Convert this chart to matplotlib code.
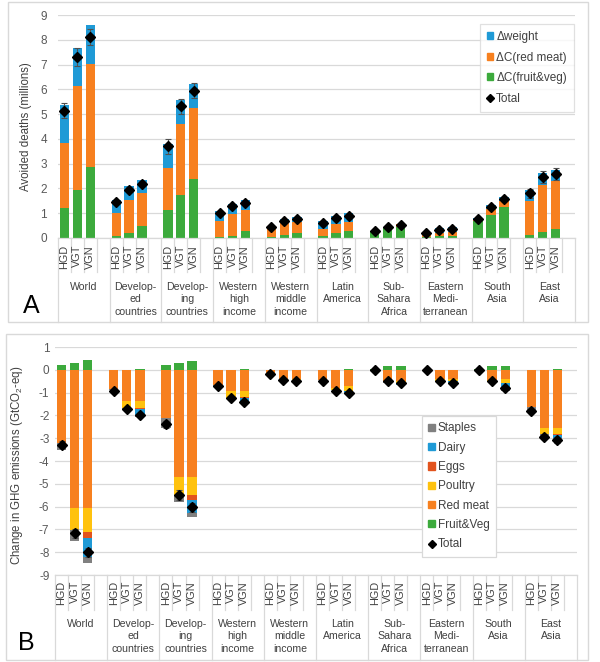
import numpy as np
import matplotlib
matplotlib.use("Agg")
import matplotlib.pyplot as plt
import matplotlib.transforms as mtransforms
from matplotlib.patches import Patch, Rectangle
from matplotlib.lines import Line2D

plt.rcParams['font.family'] = ['Liberation Sans', 'DejaVu Sans']
plt.rcParams['mathtext.fontset'] = 'custom'
plt.rcParams['mathtext.rm'] = 'Liberation Sans'
plt.rcParams['mathtext.it'] = 'Liberation Sans:italic'
plt.rcParams['axes.unicode_minus'] = False

regions = ["World", "Develop-\ned\ncountries", "Develop-\ning\ncountries",
           "Western\nhigh\nincome", "Western\nmiddle\nincome", "Latin\nAmerica",
           "Sub-\nSahara\nAfrica", "Eastern\nMedi-\nterranean", "South\nAsia", "East\nAsia"]
scenarios = ["HGD", "VGT", "VGN"]

# ---- panel A: avoided deaths (millions), one row per region, HGD/VGT/VGN
a_fruitveg = [[1.21, 1.95, 2.85], [0.08, 0.20, 0.47], [1.14, 1.75, 2.39],
              [0.04, 0.10, 0.27], [0.03, 0.12, 0.22], [0.08, 0.19, 0.28],
              [0.26, 0.39, 0.46], [0.03, 0.07, 0.10], [0.70, 0.94, 1.25],
              [0.13, 0.24, 0.36]]
a_redmeat = [[2.62, 4.19, 4.17], [0.92, 1.35, 1.34], [1.68, 2.85, 2.84],
             [0.63, 0.88, 0.87], [0.33, 0.50, 0.44], [0.27, 0.36, 0.38],
             [0.02, 0.07, 0.09], [0.10, 0.13, 0.13], [0.04, 0.23, 0.23],
             [1.37, 1.91, 1.95]]
a_weight = [[1.55, 1.52, 1.56], [0.55, 0.56, 0.54], [0.98, 0.98, 0.98],
            [0.40, 0.40, 0.41], [0.14, 0.15, 0.20], [0.34, 0.34, 0.33],
            [0.00, 0.00, 0.00], [0.11, 0.20, 0.20], [0.06, 0.17, 0.17],
            [0.45, 0.47, 0.45]]
a_total = [[5.13, 7.30, 8.10], [1.45, 1.95, 2.19], [3.70, 5.31, 5.95],
           [1.00, 1.28, 1.41], [0.46, 0.69, 0.77], [0.60, 0.79, 0.90],
           [0.28, 0.44, 0.52], [0.20, 0.34, 0.36], [0.78, 1.25, 1.57],
           [1.81, 2.46, 2.58]]
a_err = [[0.30, 0.35, 0.33], [0.08, 0.10, 0.10], [0.30, 0.30, 0.30],
         [0.06, 0.08, 0.08], [0.04, 0.05, 0.05], [0.04, 0.05, 0.05],
         [0.03, 0.03, 0.03], [0.03, 0.04, 0.04], [0.04, 0.06, 0.07],
         [0.18, 0.25, 0.25]]

# ---- panel B: change in GHG emissions (GtCO2-eq)
b_fruitveg = [[0.19, 0.32, 0.44], [0.00, 0.00, 0.03], [0.19, 0.30, 0.40],
              [0.00, 0.00, 0.03], [0.00, 0.00, 0.00], [0.00, 0.00, 0.02],
              [0.03, 0.15, 0.15], [0.00, 0.00, 0.00], [0.03, 0.15, 0.18],
              [0.00, 0.00, 0.02]]
b_redmeat = [[-3.22, -6.08, -6.08], [-0.85, -1.36, -1.36], [-2.12, -4.69, -4.69],
             [-0.66, -0.95, -0.95], [-0.22, -0.41, -0.41], [-0.44, -0.78, -0.73],
             [-0.03, -0.48, -0.51], [0.00, -0.41, -0.41], [-0.03, -0.44, -0.41],
             [-1.65, -2.56, -2.56]]
b_poultry = [[0.00, -0.95, -1.05], [0.00, -0.32, -0.32], [0.00, -0.80, -0.80],
             [0.00, -0.29, -0.25], [0.00, -0.03, -0.07], [0.00, -0.10, -0.19],
             [0.00, -0.06, -0.05], [0.00, -0.07, -0.07], [0.00, -0.07, -0.15],
             [0.00, -0.27, -0.27]]
b_eggs = [[0.00, 0.00, -0.26], [0.00, 0.00, -0.05], [0.00, 0.00, -0.22],
          [0.00, 0.00, -0.04], [0.00, 0.00, -0.01], [0.00, 0.00, -0.02],
          [0.00, 0.00, -0.02], [0.00, 0.00, -0.02], [0.00, 0.00, -0.03],
          [0.00, 0.00, -0.02]]
b_dairy = [[0.00, 0.00, -0.84], [0.00, 0.00, -0.25], [0.00, 0.00, -0.56],
           [0.00, 0.00, -0.22], [0.00, 0.00, -0.04], [0.00, 0.00, -0.06],
           [0.00, 0.00, -0.08], [0.00, 0.00, -0.08], [0.00, 0.00, -0.29],
           [0.00, 0.00, -0.12]]
b_staples = [[-0.29, -0.47, -0.23], [-0.05, -0.05, -0.07], [-0.44, -0.29, -0.17],
             [-0.03, -0.03, -0.03], [0.00, 0.00, 0.00], [-0.02, -0.02, -0.02],
             [0.00, -0.02, -0.02], [0.00, 0.00, 0.00], [0.00, -0.02, -0.07],
             [-0.11, -0.17, -0.08]]
b_total = [[-3.29, -7.17, -8.01], [-0.92, -1.71, -1.98], [-2.39, -5.49, -6.03],
           [-0.70, -1.24, -1.43], [-0.19, -0.44, -0.51], [-0.48, -0.92, -1.00],
           [0.00, -0.51, -0.59], [0.00, -0.48, -0.56], [0.00, -0.51, -0.78],
           [-1.80, -2.93, -3.07]]
b_err = [[0.15, 0.20, 0.20], [0.04, 0.05, 0.05], [0.15, 0.20, 0.20],
         [0.03, 0.05, 0.05], [0.02, 0.03, 0.03], [0.03, 0.04, 0.04],
         [0.02, 0.03, 0.03], [0.02, 0.03, 0.03], [0.02, 0.03, 0.05],
         [0.08, 0.12, 0.12]]

BLUE = "#1f9ad6"
ORANGE = "#f7801f"
GREEN = "#3caa3c"
YELLOW = "#ffc20e"
EGGS = "#e2531d"
GREY = "#808080"
GRID = "#d9d9d9"
TXT = "#404040"

flat = lambda v: np.array(v, dtype=float).ravel()
xpos = np.array([g * 4 + s for g in range(len(regions)) for s in range(len(scenarios))])
W = 0.72

fig = plt.figure(figsize=(6.0, 6.62), dpi=100)

# panel frames
fig.patches.append(Rectangle((8 / 600, 1 - 322 / 662), 580 / 600, 320 / 662,
                             transform=fig.transFigure, fill=False, ec=GRID, lw=1))
fig.patches.append(Rectangle((6 / 600, 1 - 660 / 662), 582 / 600, 326 / 662,
                             transform=fig.transFigure, fill=False, ec=GRID, lw=1))

axA = fig.add_axes([58 / 600, 1 - 238 / 662, 517 / 600, 223 / 662])
axB = fig.add_axes([55 / 600, 1 - 575 / 662, 522 / 600, 228 / 662])


def style(ax, lo, hi, pad):
    ax.set_xlim(-0.5, 4 * len(regions) - 0.5)
    ax.set_ylim(lo, hi)
    ax.set_yticks(range(lo, hi + 1))
    ax.set_xticks([])
    for s in ax.spines.values():
        s.set_visible(False)
    ax.tick_params(axis='y', length=0, pad=pad, labelsize=8.5, labelcolor="#595959")
    ax.yaxis.grid(True, color=GRID, lw=0.9)
    ax.set_axisbelow(True)


def category_axis(ax, rot_off, name_off, inner_frac, outer_frac):
    tr = mtransforms.blended_transform_factory(ax.transData, ax.transAxes)
    ax.plot([-0.5, 4 * len(regions) - 0.5], [0, 0], transform=tr, color=GRID,
            lw=0.9, clip_on=False)
    for k in range(4 * len(regions) + 1):
        depth = outer_frac if k % 4 == 0 else inner_frac
        ax.plot([k - 0.5, k - 0.5], [0, -depth], transform=tr, color=GRID,
                lw=0.9, clip_on=False)
    for x, lab in zip(xpos, scenarios * len(regions)):
        ax.annotate(lab, xy=(x, 0), xycoords=tr, xytext=(0, -rot_off),
                    textcoords='offset points', rotation=90, ha='center',
                    va='top', fontsize=7.8, color=TXT)
    for g, name in enumerate(regions):
        ax.annotate(name, xy=(g * 4 + 1.5, 0), xycoords=tr, xytext=(0, -name_off),
                    textcoords='offset points', ha='center', va='top',
                    fontsize=7.6, color=TXT, linespacing=1.3)


# ---- panel A
style(axA, 0, 9, 8)
fv, rm, wt = flat(a_fruitveg), flat(a_redmeat), flat(a_weight)
axA.bar(xpos, fv, W, color=GREEN, zorder=2)
axA.bar(xpos, rm, W, bottom=fv, color=ORANGE, zorder=2)
axA.bar(xpos, wt, W, bottom=fv + rm, color=BLUE, zorder=2)
axA.errorbar(xpos, flat(a_total), yerr=flat(a_err), fmt='D', ms=5.3, color='black',
             ecolor='#505050', elinewidth=0.8, capsize=2.2, capthick=0.8, zorder=3)
axA.set_ylabel("Avoided deaths (millions)", fontsize=8.3, color=TXT)
axA.yaxis.set_label_coords(-0.05, 0.5)
category_axis(axA, 5, 31.5, 34 / 223, 84 / 223)

legA = [Patch(color=BLUE, label="\u0394weight"),
        Patch(color=ORANGE, label="\u0394C(red meat)"),
        Patch(color=GREEN, label="\u0394C(fruit&veg)"),
        Line2D([], [], marker='D', ls='none', color='black', ms=4.5, label="Total")]
lg = axA.legend(handles=legA, loc='upper right', bbox_to_anchor=(574 / 600, 1 - 24 / 662),
                bbox_transform=fig.transFigure, borderaxespad=0, fancybox=False,
                edgecolor=GRID, fontsize=8.5, handlelength=0.55, handleheight=0.55,
                handletextpad=0.25, labelspacing=0.72, borderpad=0.6)
for t in lg.get_texts():
    t.set_color(TXT)
lg.get_frame().set_linewidth(0.9)

# ---- panel B
style(axB, -9, 1, 4)
pos = flat(b_fruitveg)
axB.bar(xpos, pos, W, color=GREEN, zorder=2)
base = np.zeros(len(xpos))
for vals, col in [(b_redmeat, ORANGE), (b_poultry, YELLOW), (b_eggs, EGGS),
                  (b_dairy, BLUE), (b_staples, GREY)]:
    v = flat(vals)
    axB.bar(xpos, v, W, bottom=base, color=col, zorder=2)
    base = base + v
axB.errorbar(xpos, flat(b_total), yerr=flat(b_err), fmt='D', ms=5.3, color='black',
             ecolor='#505050', elinewidth=0.8, capsize=2.2, capthick=0.8, zorder=3)
axB.set_ylabel("Change in GHG emissions (GtCO$_2$-eq)", fontsize=8.3, color=TXT)
axB.yaxis.set_label_coords(-0.057, 0.48)
category_axis(axB, 4.3, 31.5, 35 / 228, 85 / 228)

legB = [Patch(color=GREY, label="Staples"), Patch(color=BLUE, label="Dairy"),
        Patch(color=EGGS, label="Eggs"), Patch(color=YELLOW, label="Poultry"),
        Patch(color=ORANGE, label="Red meat"), Patch(color=GREEN, label="Fruit&Veg"),
        Line2D([], [], marker='D', ls='none', color='black', ms=4.5, label="Total")]
lg = axB.legend(handles=legB, loc='upper left', bbox_to_anchor=(422 / 600, 1 - 416 / 662),
                bbox_transform=fig.transFigure, borderaxespad=0, fancybox=False,
                edgecolor=GRID, fontsize=8.5, handlelength=0.55, handleheight=0.55,
                handletextpad=0.25, labelspacing=0.62, borderpad=0.55, framealpha=1)
for t in lg.get_texts():
    t.set_color(TXT)
lg.get_frame().set_linewidth(0.9)

fig.text(23 / 600, 1 - 313 / 662, "A", fontsize=18, va='baseline', ha='left')
fig.text(18 / 600, 1 - 650 / 662, "B", fontsize=18, va='baseline', ha='left')

fig.savefig("out.png", dpi=100)
